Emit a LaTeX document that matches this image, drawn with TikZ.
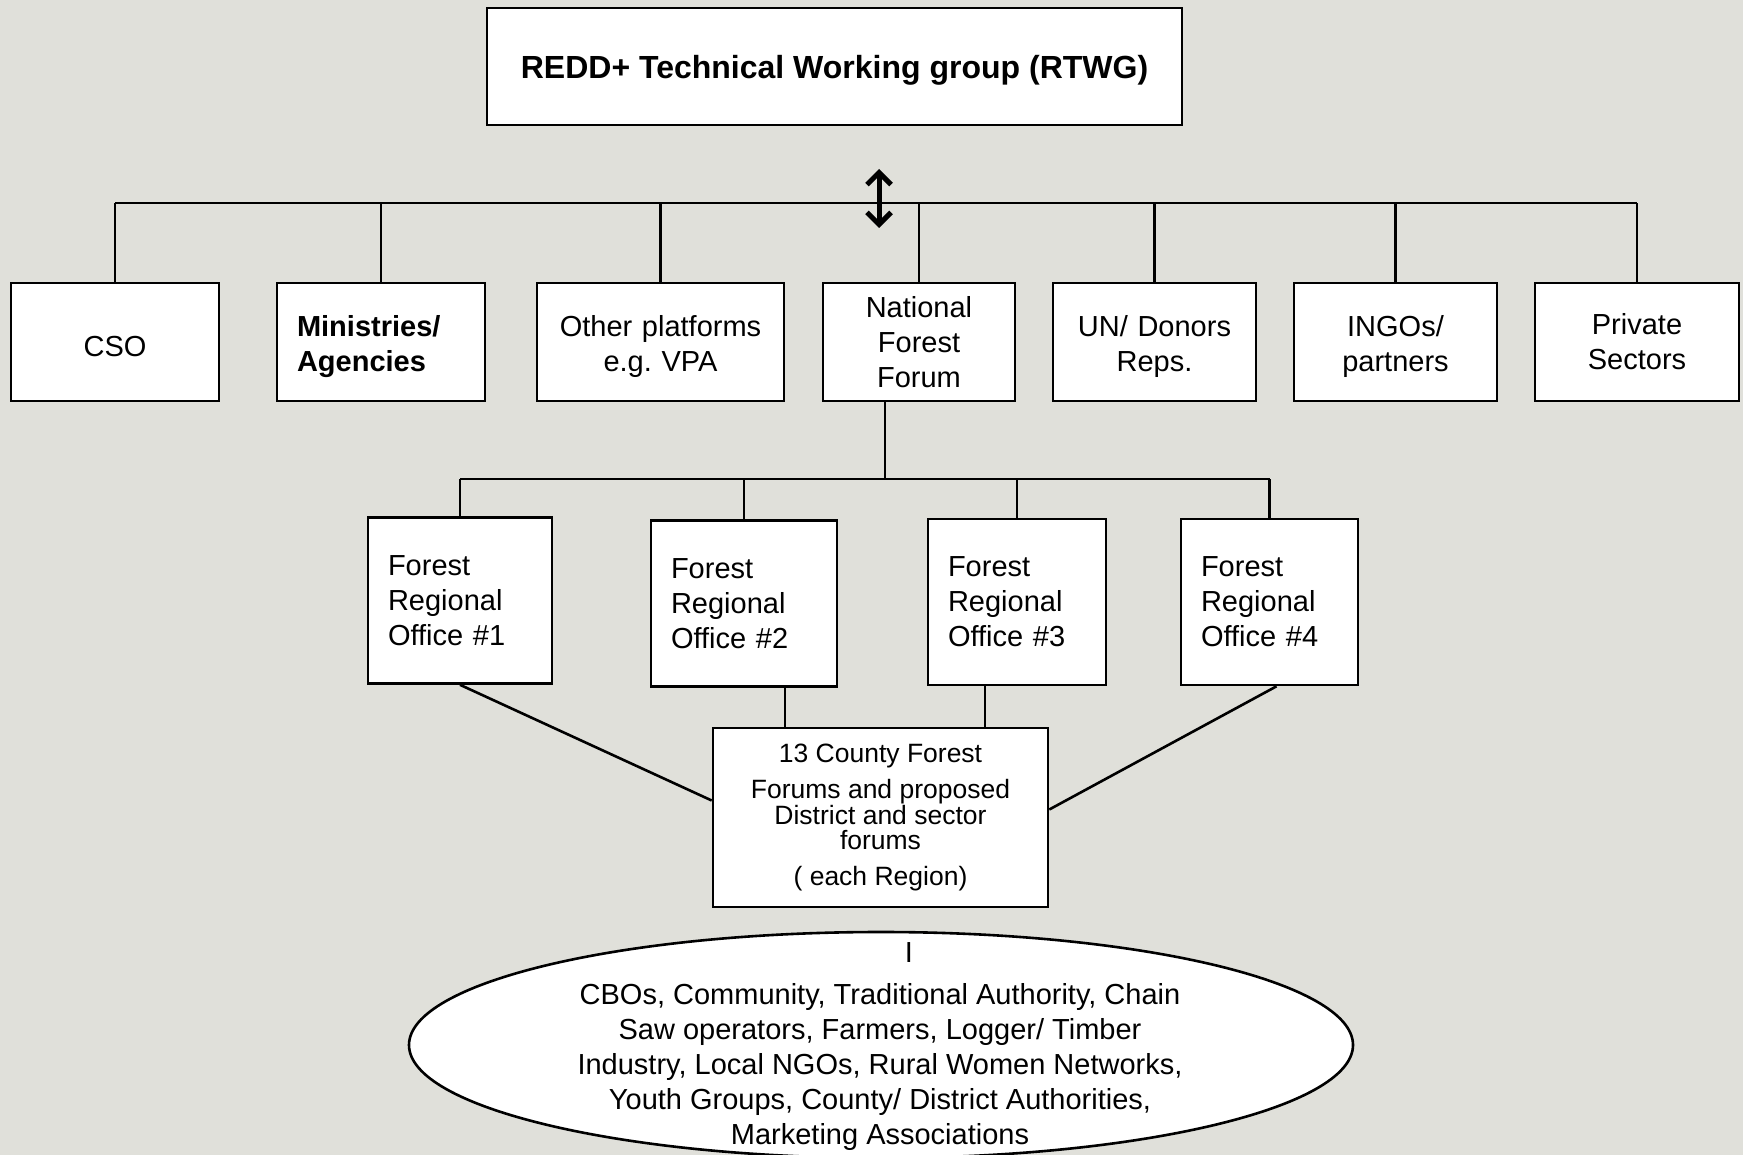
\documentclass[tikz,border=0pt]{standalone}
\usepackage{fontspec}
\setmainfont{Liberation Sans}
\usetikzlibrary{arrows.meta,positioning,shapes.geometric}
\frenchspacing
\definecolor{bgGrey}{HTML}{E0E0DA}
\newcommand{\bodyfont}{\fontsize{29pt}{35pt}\selectfont}
\newcommand{\cntyfont}{\fontsize{26.5pt}{25.6pt}\selectfont}
\newcommand{\ttlfont}{\fontsize{32pt}{37pt}\selectfont\bfseries}
\tikzset{
  bx/.style     = {draw=black, fill=white, line width=2.6pt, align=center,
                   font=\bodyfont, inner sep=0pt},
  lowtxt/.style = {execute at begin node={\rule{0pt}{30pt}}},
  rowbx/.style  = {bx, minimum height=118pt},
  rgbx/.style   = {bx, align=left, inner xsep=20pt, minimum height=166pt},
  ln/.style     = {draw=black, line width=2.6pt},
  dbl/.style    = {{Straight Barb[length=12pt,width=24pt]}-{Straight Barb[length=12pt,width=24pt]},
                   line width=5pt},
}

\begin{document}
\begin{tikzpicture}[x=1pt, y=-1pt]
  \fill[bgGrey] (0,0) rectangle (1743,1155);
  \useasboundingbox (0,0) rectangle (1743,1155);
  % top box
  \node[bx, lowtxt, font=\ttlfont, minimum width=695pt, minimum height=117pt] (rtwg) at (834.5,66.5)
       {REDD+ Technical Working group (RTWG)};
  % stakeholder row
  \node[rowbx, lowtxt, text width=208pt] (cso) at (115,342) {CSO};
  \node[rowbx, lowtxt, align=left, text width=168pt, inner xsep=20pt, font=\bodyfont\bfseries] (min)
       at (381,342) {Ministries/\\Agencies};
  \node[rowbx, lowtxt, text width=247pt] (oth)  at (660.5,342)  {Other platforms\\e.g. VPA};
  \node[rowbx, text width=192pt]         (nff)  at (919,342)    {National\\Forest\\Forum};
  \node[rowbx, lowtxt, text width=203pt] (un)   at (1154.5,342) {UN/ Donors\\Reps.};
  \node[rowbx, lowtxt, text width=203pt] (ingo) at (1395.5,342) {INGOs/\\partners};
  \node[rowbx, text width=204pt]         (priv) at (1637,342)   {Private\\Sectors};
  \coordinate (bus) at (0,203);
  \draw[ln] (cso.north |- bus) -- (priv.north |- bus);
  \foreach \nm in {cso,min,oth,nff,un,ingo,priv}
    \draw[ln] (\nm.north) -- (\nm.north |- bus);
  \coordinate (arrTop) at (879,169);
  \coordinate (arrBot) at (879,228);
  \draw[dbl] (arrTop) -- (arrBot);
  % regional offices
  \node[rgbx, text width=144pt] (ro1) at (460,600.5)  {Forest\\Regional\\Office \#1};
  \node[rgbx, text width=146pt] (ro2) at (744,603.5)  {Forest\\Regional\\Office \#2};
  \node[rgbx, text width=138pt] (ro3) at (1017,602)   {Forest\\Regional\\Office \#3};
  \node[rgbx, text width=137pt] (ro4) at (1269.5,602) {Forest\\Regional\\Office \#4};
  \coordinate (bus2) at (0,479);
  \draw[ln] ([xshift=-34pt]nff.south) -- ([xshift=-34pt]nff.south |- bus2);
  \draw[ln] (ro1.north |- bus2) -- (ro4.north |- bus2);
  \foreach \nm in {ro1,ro2,ro3,ro4}
    \draw[ln] (\nm.north) -- (\nm.north |- bus2);
  % county forums
  \node[bx, font=\cntyfont, minimum width=335pt, minimum height=179pt] (cty) at (880.5,817.5)
       {13 County Forest\\[10pt]Forums and proposed\\District and sector\\forums\\[10pt]( each Region)};
  \draw[ln] (ro1.south) -- ([yshift=17pt]cty.west);
  \draw[ln] ([xshift=41pt]ro2.south) -- ([xshift=41pt]ro2.south |- cty.north);
  \draw[ln] ([xshift=-32pt]ro3.south) -- ([xshift=-32pt]ro3.south |- cty.north);
  \draw[ln] ([xshift=7pt]ro4.south) -- ([yshift=8pt]cty.east);
  % community level
  \node[draw=black, fill=white, ellipse, line width=2.6pt, minimum width=944pt,
        minimum height=226pt, inner sep=0pt] (grp) at (881,1045) {};
  \node[font=\bodyfont] (tick) at (909,953) {I};
  \node[font=\bodyfont, align=center] (grptxt) at (880,1066.5)
       {CBOs, Community, Traditional Authority, Chain\\Saw operators, Farmers, Logger/ Timber\\
        Industry, Local NGOs, Rural Women Networks,\\Youth Groups, County/ District Authorities,\\
        Marketing Associations};
\end{tikzpicture}
\end{document}
